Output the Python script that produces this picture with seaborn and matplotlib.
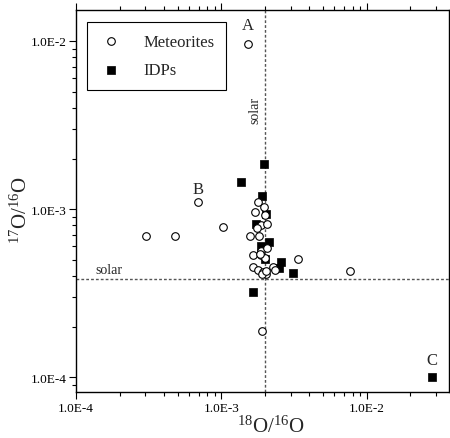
import numpy as np
import pandas as pd
import matplotlib
matplotlib.use("Agg")
import matplotlib.pyplot as plt
import matplotlib.ticker as mticker
import seaborn as sns

# meteorite data (18O/16O, 17O/16O)
met_x = [1.52e-3, 6.9e-4, 3.03e-4, 4.8e-4, 1.03e-3, 1.9e-3, 7.7e-3, 3.39e-3,
         1.78e-3, 1.97e-3, 1.71e-3, 1.99e-3, 1.88e-3, 2.05e-3, 1.77e-3, 1.58e-3,
         1.83e-3, 1.88e-3, 2.05e-3, 1.66e-3, 1.88e-3, 1.99e-3, 1.66e-3, 1.78e-3,
         1.95e-3, 2.03e-3, 2.28e-3, 2.34e-3, 1.91e-3, 2.02e-3, 1.85e-3]
met_y = [9.6e-3, 1.10e-3, 6.9e-4, 6.9e-4, 7.8e-4, 1.88e-4, 4.27e-4, 5.05e-4,
         1.10e-3, 1.025e-3, 9.57e-4, 9.26e-4, 8.04e-4, 8.19e-4, 7.69e-4, 6.95e-4,
         6.95e-4, 5.66e-4, 5.90e-4, 5.33e-4, 5.33e-4, 5.10e-4, 4.53e-4, 4.36e-4,
         4.24e-4, 4.13e-4, 4.53e-4, 4.36e-4, 4.11e-4, 4.30e-4, 5.41e-4]

# IDP data
idp_x = [1.97e-3, 1.37e-3, 1.91e-3, 2.02e-3, 1.73e-3, 2.14e-3, 1.88e-3, 2.0e-3,
         2.58e-3, 2.49e-3, 3.13e-3, 1.66e-3, 2.82e-2]
idp_y = [1.86e-3, 1.45e-3, 1.19e-3, 9.35e-4, 8.15e-4, 6.35e-4, 6.06e-4, 5.05e-4,
         4.87e-4, 4.45e-4, 4.17e-4, 3.2e-4, 1.01e-4]

solar_x = 2.0e-3
solar_y = 3.84e-4

met = pd.DataFrame({"x": met_x, "y": met_y})
idp = pd.DataFrame({"x": idp_x, "y": idp_y})

sns.set_style("ticks")
plt.rcParams["font.family"] = ["Liberation Serif", "DejaVu Serif"]
plt.rcParams["mathtext.fontset"] = "custom"
plt.rcParams["mathtext.rm"] = "Liberation Serif"

fig = plt.figure(figsize=(4.5, 4.39), dpi=100)
ax = fig.add_axes([76 / 450, 1 - 393.3 / 439, 373 / 450, 382.3 / 439])

# solar reference lines
ax.axvline(solar_x, color="#555555", linestyle=(0, (2, 1.5)), linewidth=1, zorder=1)
ax.axhline(solar_y, color="#555555", linestyle=(0, (2, 1.5)), linewidth=1, zorder=1)

sns.scatterplot(data=met, x="x", y="y", marker="o", s=30, facecolor="white",
                edgecolor="black", linewidth=0.8, ax=ax, zorder=3, label="Meteorites")
sns.scatterplot(data=idp, x="x", y="y", marker="s", s=32, color="black",
                edgecolor="black", linewidth=0.5, ax=ax, zorder=2, label="IDPs")

ax.set_xscale("log")
ax.set_yscale("log")
ax.set_xlim(1e-4, 3.684e-2)
ax.set_ylim(8.15e-5, 1.527e-2)

fmt = mticker.FuncFormatter(lambda v, p: f"1.0E{int(round(np.log10(v)))}")
ax.xaxis.set_major_locator(mticker.FixedLocator([1e-4, 1e-3, 1e-2]))
ax.yaxis.set_major_locator(mticker.FixedLocator([1e-4, 1e-3, 1e-2]))
ax.xaxis.set_major_formatter(fmt)
ax.yaxis.set_major_formatter(fmt)
ax.xaxis.set_minor_locator(mticker.LogLocator(base=10, subs=np.arange(2, 10)))
ax.yaxis.set_minor_locator(mticker.LogLocator(base=10, subs=np.arange(2, 10)))
ax.xaxis.set_minor_formatter(mticker.NullFormatter())
ax.yaxis.set_minor_formatter(mticker.NullFormatter())
ax.tick_params(which="both", direction="out", top=True, right=True, labelsize=9.5,
               width=0.8, colors="black")
ax.tick_params(which="major", length=5, pad=2)
ax.tick_params(which="minor", length=3)
for sp in ax.spines.values():
    sp.set_linewidth(1)
    sp.set_color("black")

ax.set_xlabel(r"$\mathregular{^{18}O/^{16}O}$", fontsize=15)
ax.set_ylabel(r"$\mathregular{^{17}O/^{16}O}$", fontsize=15)
ax.xaxis.set_label_coords(0.523, -0.062)
ax.yaxis.set_label_coords(-0.118, 0.48)

# annotations
ax.text(1.52e-3, 1.25e-2, "A", fontsize=12, ha="center", va="center")
ax.text(6.9e-4, 1.32e-3, "B", fontsize=12, ha="center", va="center")
ax.text(2.82e-2, 1.27e-4, "C", fontsize=12, ha="center", va="center")
ax.text(1.37e-4, solar_y * 1.04, "solar", fontsize=10, ha="left", va="bottom")
ax.text(1.89e-3, 3.9e-3, "solar", fontsize=10, rotation=90, ha="right", va="center")

leg = ax.legend(loc="upper left", bbox_to_anchor=(0.0295, 0.9686), borderaxespad=0,
                fontsize=12, frameon=True, fancybox=False, edgecolor="black",
                framealpha=1, handletextpad=1.2, labelspacing=0.75, borderpad=0.7,
                handlelength=1.5)
leg.get_frame().set_linewidth(0.8)

fig.savefig("out.png", dpi=100)
